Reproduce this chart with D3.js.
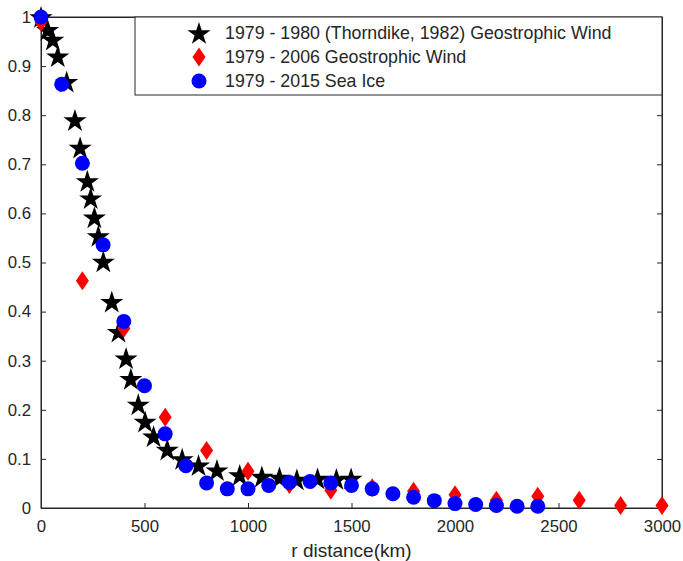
<!DOCTYPE html>
<html>
<head>
<meta charset="utf-8">
<script src="https://cdn.jsdelivr.net/npm/d3@7"></script>
<style>
  body { margin: 0; background: #fff; }
  text { font-family: "Liberation Sans", Arial, sans-serif; fill: #262626; }
</style>
</head>
<body>
<div id="chart"></div>
<script>
// Thorndike 1979-1980 geostrophic wind correlation
var starDist = [0, 32, 57, 81, 124, 164, 189, 224, 240, 258, 277, 301, 342, 374, 411, 434, 470, 503, 544, 610, 682, 761, 850, 960, 1067, 1152, 1236, 1336, 1427, 1498];
var starVal  = [1.0, 0.974, 0.954, 0.92, 0.868, 0.79, 0.734, 0.666, 0.631, 0.592, 0.554, 0.502, 0.42, 0.359, 0.305, 0.263, 0.211, 0.176, 0.146, 0.119, 0.100, 0.087, 0.077, 0.067, 0.064, 0.062, 0.058, 0.060, 0.059, 0.060];

// 1979-2006 geostrophic wind
var windDist = [0, 200, 400, 600, 800, 1000, 1200, 1400, 1600, 1800, 2000, 2200, 2400, 2600, 2800, 3000];
var windVal  = [0.99, 0.463, 0.366, 0.185, 0.117, 0.075, 0.048, 0.036, 0.041, 0.034, 0.027, 0.016, 0.024, 0.016, 0.005, 0.005];

// 1979-2015 sea ice
var iceDist = [0, 100, 200, 300, 400, 500, 600, 700, 800, 900, 1000, 1100, 1200, 1300, 1400, 1500, 1600, 1700, 1800, 1900, 2000, 2100, 2200, 2300, 2400];
var iceVal  = [1.0, 0.863, 0.702, 0.536, 0.380, 0.249, 0.151, 0.086, 0.051, 0.039, 0.039, 0.046, 0.052, 0.054, 0.051, 0.046, 0.039, 0.029, 0.022, 0.015, 0.009, 0.007, 0.005, 0.0035, 0.0035];

var xTicks = [0, 500, 1000, 1500, 2000, 2500, 3000];
var yTicks = [0, 0.1, 0.2, 0.3, 0.4, 0.5, 0.6, 0.7, 0.8, 0.9, 1];
var legendLabels = ["1979 - 1980 (Thorndike, 1982) Geostrophic Wind", "1979 - 2006 Geostrophic Wind", "1979 - 2015 Sea Ice"];

var width = 683, height = 561;
var margin = {left: 41, right: 21, top: 17, bottom: 53};
var axisColor = "#262626";

var svg = d3.select("#chart").append("svg")
  .attr("width", width)
  .attr("height", height);

var x = d3.scaleLinear().domain([0, 3000]).range([margin.left, width - margin.right]);
var y = d3.scaleLinear().domain([0, 1]).range([height - margin.bottom, margin.top]);

// box
svg.append("rect")
  .attr("x", x(0)).attr("y", y(1))
  .attr("width", x(3000) - x(0)).attr("height", y(0) - y(1))
  .attr("fill", "none").attr("stroke", axisColor).attr("stroke-width", 1);

// axes with inward ticks, matlab style
var xAxis = svg.append("g")
  .attr("transform", "translate(0," + y(0) + ")")
  .call(d3.axisBottom(x).tickValues(xTicks).tickSizeInner(-5).tickSizeOuter(0).tickPadding(12).tickFormat(d3.format("d")));
var yAxis = svg.append("g")
  .attr("transform", "translate(" + x(0) + ",0)")
  .call(d3.axisLeft(y).tickValues(yTicks).tickSizeInner(-5).tickSizeOuter(0).tickPadding(10).tickFormat(function(d) { return d === 0 || d === 1 ? d : d.toFixed(1); }));
var yAxisR = svg.append("g")
  .attr("transform", "translate(" + x(3000) + ",0)")
  .call(d3.axisRight(y).tickValues(yTicks).tickSizeInner(-5).tickSizeOuter(0).tickFormat(""));
var xAxisT = svg.append("g")
  .attr("transform", "translate(0," + y(1) + ")")
  .call(d3.axisTop(x).tickValues(xTicks).tickSizeInner(-5).tickSizeOuter(0).tickFormat(""));

[xAxis, yAxis, yAxisR, xAxisT].forEach(function(g) {
  g.select(".domain").attr("stroke", axisColor);
  g.selectAll(".tick line").attr("stroke", axisColor);
  g.selectAll(".tick text").style("font-size", "16.8px").attr("fill", axisColor)
    .style("font-family", "'Liberation Sans', Arial, sans-serif");
});

svg.append("text")
  .attr("x", (x(0) + x(3000)) / 2)
  .attr("y", 557)
  .attr("text-anchor", "middle")
  .style("font-size", "19px")
  .text("r distance(km)");

// marker shapes
var starPath = d3.symbol().type(d3.symbolStar).size(165)();
function diamondPath(hw, hh) {
  return "M0," + (-hh) + "L" + hw + ",0L0," + hh + "L" + (-hw) + ",0Z";
}

var stars = starDist.map(function(d, i) { return {x: d, y: starVal[i]}; });
var winds = windDist.map(function(d, i) { return {x: d, y: windVal[i]}; });
var ices = iceDist.map(function(d, i) { return {x: d, y: iceVal[i]}; });

svg.append("g").selectAll("path")
  .data(stars)
  .enter().append("path")
    .attr("d", starPath)
    .attr("transform", function(d) { return "translate(" + x(d.x) + "," + (y(d.y) + 1) + ")"; })
    .attr("fill", "#000");

svg.append("g").selectAll("path")
  .data(winds)
  .enter().append("path")
    .attr("d", diamondPath(6.5, 9.5))
    .attr("transform", function(d) { return "translate(" + x(d.x) + "," + y(d.y) + ")"; })
    .attr("fill", "#ff0000");

svg.append("g").selectAll("circle")
  .data(ices)
  .enter().append("circle")
    .attr("cx", function(d) { return x(d.x); })
    .attr("cy", function(d) { return y(d.y); })
    .attr("r", 7.5)
    .attr("fill", "#0000ff");

// legend
var legend = svg.append("g");
legend.append("rect")
  .attr("x", 135).attr("y", y(1))
  .attr("width", x(3000) - 135).attr("height", 78)
  .attr("fill", "#fff").attr("stroke", axisColor).attr("stroke-width", 1);

var rowY = [33, 57, 81];
legend.append("path").attr("d", starPath).attr("transform", "translate(199," + (rowY[0] + 1) + ")").attr("fill", "#000");
legend.append("path").attr("d", diamondPath(6.5, 9.5)).attr("transform", "translate(199," + rowY[1] + ")").attr("fill", "#ff0000");
legend.append("circle").attr("cx", 199).attr("cy", rowY[2]).attr("r", 7.5).attr("fill", "#0000ff");

legend.selectAll("text.lbl")
  .data(legendLabels)
  .enter().append("text")
    .attr("class", "lbl")
    .attr("x", 225)
    .attr("y", function(d, i) { return rowY[i] + 6; })
    .style("font-size", "17.8px")
    .text(function(d) { return d; });
</script>
</body>
</html>
